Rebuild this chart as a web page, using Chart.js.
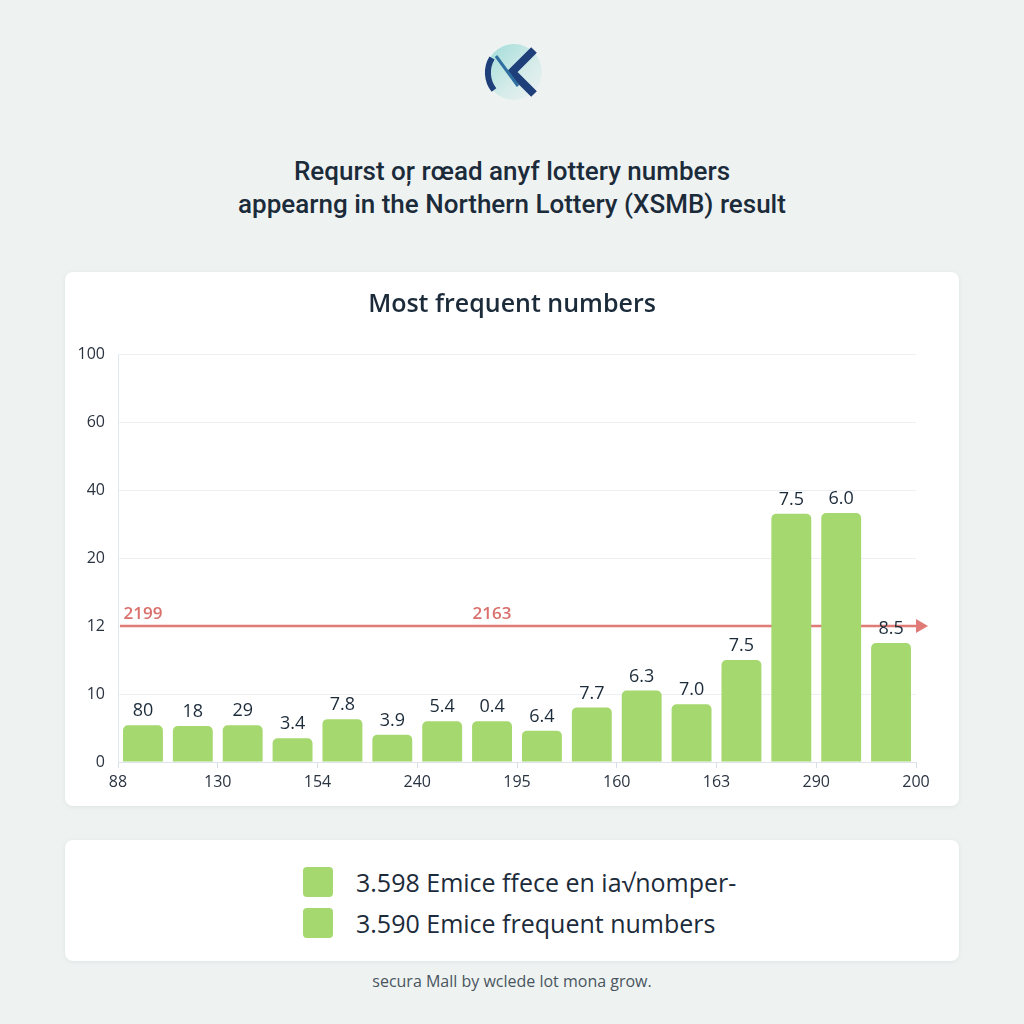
<!DOCTYPE html>
<html>
<head>
<meta charset="utf-8">
<script src="https://cdn.jsdelivr.net/npm/chart.js@4.4.1/dist/chart.umd.min.js"></script>
<style>
  html, body { margin: 0; padding: 0; }
  body {
    width: 1024px; height: 1024px; position: relative; overflow: hidden;
    background: #eef3f2; font-family: "Open Sans", "Noto Sans", sans-serif; color: #1c2b3a;
  }
  #logo { position: absolute; left: 484px; top: 42px; }
  .headline {
    position: absolute; left: 0; width: 1024px; text-align: center;
    font-family: Roboto, "Open Sans", sans-serif; font-weight: 500; font-size: 26px;
    line-height: 33px; top: 155px; color: #1c2b3a;
  }
  .card {
    position: absolute; left: 65px; width: 894px; background: #fff;
    border-radius: 8px; box-shadow: 0 1px 4px rgba(40, 60, 60, 0.08);
  }
  #chartCard { top: 272px; height: 534px; }
  #legendCard { top: 840px; height: 121px; }
  .legRow { position: absolute; left: 238px; height: 32px; display: flex; align-items: center; }
  .legBox { width: 30px; height: 30px; border-radius: 4px; background: #a5d86e; margin-right: 23px; }
  .legText { font-size: 25px; color: #1c2b3a; }
  #footer {
    position: absolute; top: 970px; left: 0; width: 1024px; text-align: center;
    font-size: 16px; color: #4a5560;
  }
</style>
</head>
<body>
<svg id="logo" width="60" height="60" viewBox="0 0 60 60">
  <defs>
    <linearGradient id="lg" x1="0" y1="0" x2="1" y2="1">
      <stop offset="0" stop-color="#9fdcd8"/>
      <stop offset="0.6" stop-color="#d6ecea"/>
      <stop offset="1" stop-color="#eef2f2"/>
    </linearGradient>
  </defs>
  <circle cx="30" cy="30" r="28" fill="url(#lg)"/>
  <path d="M8 16 A28 28 0 0 0 10 48" stroke="#1f3f7a" stroke-width="6" fill="none"/>
  <polyline points="50,8 28,30 50,52" stroke="#1f3f7a" stroke-width="8" fill="none"/>
  <line x1="12" y1="14" x2="34" y2="44" stroke="#2f6fa0" stroke-width="3"/>
</svg>

<div class="headline">Requrst oŗ rœad anyf lottery numbers<br>appearng in the Northern Lottery (XSMB) result</div>

<div class="card" id="chartCard">
  <div style="position:absolute;left:0;top:0;width:894px;height:534px;">
    <canvas id="freqChart"></canvas>
  </div>
</div>

<div class="card" id="legendCard">
  <div class="legRow" style="top:26px;"><div class="legBox"></div><span class="legText">3.598 Emice ffece en ia√nomper-</span></div>
  <div class="legRow" style="top:67px;"><div class="legBox"></div><span class="legText">3.590 Emice frequent numbers</span></div>
</div>

<div id="footer">secura Mall by wclede lot mona grow.</div>

<script>
  const barValues = [5.4, 5.3, 5.4, 3.5, 6.3, 4.0, 6.0, 6.0, 4.6, 8.0, 10.1, 8.5, 11.0, 33.0, 33.2, 11.5];
  const barLabels = ["80", "18", "29", "3.4", "7.8", "3.9", "5.4", "0.4", "6.4", "7.7", "6.3", "7.0", "7.5", "7.5", "6.0", "8.5"];
  const xLabels = ["88", "130", "154", "240", "195", "160", "163", "290", "200"];
  const yTickValues = [0, 10, 12, 20, 40, 60, 100];
  const refValue = 12;
  const refLabels = ["2199", "2163"];
  const refLabelBars = [0, 7];

  // the y axis is evenly spaced per tick, so map a value to its slot position
  function toSlot(v) {
    for (let i = 0; i < yTickValues.length - 1; i++) {
      const a = yTickValues[i], b = yTickValues[i + 1];
      if (v <= b) return i + (v - a) / (b - a);
    }
    return yTickValues.length - 1;
  }

  const refLine = {
    id: "refLine",
    beforeDatasetsDraw(chart) {
      const { ctx, chartArea, scales } = chart;
      const y = scales.y.getPixelForValue(toSlot(refValue));
      const x0 = chartArea.left + 2, x1 = chartArea.right;
      ctx.save();
      ctx.strokeStyle = "#e07b78";
      ctx.fillStyle = "#e07b78";
      ctx.lineWidth = 2.5;
      ctx.beginPath();
      ctx.moveTo(x0, y);
      ctx.lineTo(x1, y);
      ctx.stroke();
      ctx.beginPath();
      ctx.moveTo(x1, y - 7);
      ctx.lineTo(x1 + 12, y);
      ctx.lineTo(x1, y + 7);
      ctx.closePath();
      ctx.fill();
      ctx.fillStyle = "#d9706c";
      ctx.font = "600 17px 'Open Sans', sans-serif";
      ctx.textAlign = "center";
      ctx.textBaseline = "bottom";
      refLabels.forEach((t, i) => {
        ctx.fillText(t, scales.x.getPixelForValue(refLabelBars[i]), y - 3);
      });
      ctx.restore();
    }
  };

  const barText = {
    id: "barText",
    afterDatasetsDraw(chart) {
      const { ctx } = chart;
      const meta = chart.getDatasetMeta(0);
      ctx.save();
      ctx.fillStyle = "#1c2b3a";
      ctx.font = "18px 'Open Sans', sans-serif";
      ctx.textAlign = "center";
      ctx.textBaseline = "bottom";
      meta.data.forEach((bar, i) => {
        ctx.fillText(barLabels[i], bar.x, bar.y - 5);
      });
      ctx.restore();
    }
  };

  new Chart(document.getElementById("freqChart").getContext("2d"), {
    type: "bar",
    data: {
      labels: barLabels.map((_, i) => i),
      datasets: [{
        data: barValues.map(toSlot),
        backgroundColor: "#a5d86e",
        borderRadius: 5,
        borderSkipped: "bottom",
        barPercentage: 0.8,
        categoryPercentage: 1.0
      }]
    },
    options: {
      responsive: true,
      maintainAspectRatio: false,
      animation: false,
      layout: { padding: 0 },
      plugins: {
        legend: { display: false },
        tooltip: { enabled: false },
        title: {
          display: true,
          text: "Most frequent numbers",
          color: "#1c2b3a",
          font: { family: "'Open Sans', sans-serif", size: 25, weight: "600" },
          padding: { top: 18, bottom: 34 }
        }
      },
      scales: {
        x: { display: false, offset: true },
        x2: {
          type: "linear",
          position: "bottom",
          offset: false,
          min: 0,
          max: 16,
          afterBuildTicks: s => { s.ticks = xLabels.map((_, i) => ({ value: i * 2 })); },
          afterFit: s => { s.height = 44; },
          ticks: {
            callback: v => xLabels[v / 2],
            color: "#2a3440",
            font: { family: "'Open Sans', sans-serif", size: 16 },
            padding: 5,
            maxRotation: 0,
            autoSkip: false
          },
          grid: { offset: false, drawOnChartArea: false, tickLength: 6, color: "#d8dee6" },
          border: { display: true, color: "#dde3ea" }
        },
        y: {
          min: 0,
          max: yTickValues.length - 1,
          afterBuildTicks: s => { s.ticks = yTickValues.map((_, i) => ({ value: i })); },
          afterFit: s => { s.width = 53; },
          ticks: {
            callback: v => String(yTickValues[v]),
            color: "#2a3440",
            font: { family: "'Open Sans', sans-serif", size: 16 },
            padding: 13
          },
          grid: { color: "#edf0f2", drawTicks: false },
          border: { display: true, color: "#e2e7ec" }
        },
        // empty right axis, only keeps the plot clear of the card's right edge
        yR: {
          position: "right",
          afterFit: s => { s.width = 43; },
          ticks: { display: false },
          grid: { display: false },
          border: { display: false }
        }
      }
    },
    plugins: [refLine, barText]
  });
</script>
</body>
</html>
